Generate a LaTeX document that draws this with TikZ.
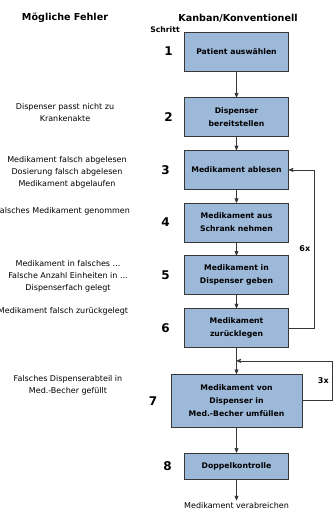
\documentclass[tikz,border=0pt]{standalone}
\usepackage{fontspec}
\setmainfont{DejaVu Sans}
\usepackage{tikz}
\usetikzlibrary{arrows}
\usetikzlibrary{positioning}
\usepackage{xcolor}
\definecolor{boxblue}{RGB}{157,185,218}
\definecolor{linegray}{RGB}{55,55,55}

\begin{document}
\begin{tikzpicture}[->, >=stealth', x=1pt, y=1pt, node distance=13pt, line width=0.7pt, color=linegray]
\tikzstyle{schritt} = [draw=linegray, fill=boxblue, text=black, minimum width=104pt, minimum height=39pt, align=center, inner sep=2pt, font=\bfseries\fontsize{7.7}{13}\selectfont]
\tikzstyle{nummer} = [text=black, inner sep=0pt, font=\bfseries\fontsize{12}{14}\selectfont]
\tikzstyle{fehler} = [text=black, align=center, inner sep=2pt, font=\fontsize{8}{12}\selectfont]
\tikzstyle{kopf} = [text=black, inner sep=0pt, font=\bfseries\fontsize{9.6}{12}\selectfont]

\useasboundingbox (0,0) rectangle (336,-513);

\node[kopf] (h1) at (65,-18) {Mögliche Fehler};
\node[kopf] (h2) at (238,-18) {Kanban/Konventionell};
\node[kopf, font=\bfseries\fontsize{7.7}{10}\selectfont] (hs) at (165,-30) {Schritt};

\node[schritt] (b1) at (236.5,-51.5) {Patient auswählen};
\node[schritt] (b2)[below=26pt of b1] {Dispenser\\bereitstellen};
\node[schritt] (b3)[below=of b2] {Medikament ablesen};
\node[schritt] (b4)[below=of b3] {Medikament aus\\Schrank nehmen};
\node[schritt] (b5)[below=of b4] {Medikament in\\Dispenser geben};
\node[schritt] (b6)[below=of b5] {Medikament\\zurücklegen};
\node[schritt, minimum width=131pt, minimum height=53pt] (b7)[below=26pt of b6] {Medikament von\\Dispenser in\\Med.-Becher umfüllen};
\node[schritt, minimum height=26pt] (b8)[below=25pt of b7] {Doppelkontrolle};
\node[fehler] (ende)[below=21pt of b8] {Medikament verabreichen};

\node[nummer] (n1)[left=11pt of b1] {1};
\node[nummer] (n2)[left=11pt of b2] {2};
\node[nummer] (n3)[left=14pt of b3] {3};
\node[nummer] (n4)[left=14pt of b4] {4};
\node[nummer] (n5)[left=14pt of b5] {5};
\node[nummer] (n6)[left=14pt of b6] {6};
\node[nummer] (n7)[left=13pt of b7] {7};
\node[nummer] (n8)[left=12pt of b8] {8};

\node[fehler] (f2) at (65,-113) {Dispenser passt nicht zu\\Krankenakte};
\node[fehler] (f3) at (67,-172) {Medikament falsch abgelesen\\Dosierung falsch abgelesen\\Medikament abgelaufen};
\node[fehler] (f4) at (63,-211) {Falsches Medikament genommen};
\node[fehler] (f5) at (68,-276.5) {Medikament in falsches ...\\Falsche Anzahl Einheiten in ...\\Dispenserfach gelegt};
\node[fehler] (f6) at (63,-311) {Medikament falsch zurückgelegt};
\node[fehler] (f7) at (68,-385.5) {Falsches Dispenserabteil in\\Med.-Becher gefüllt};

\path (b6.south) -- (b7.north) coordinate[midway] (j);

\path (b1) edge (b2)
	(b2) edge (b3)
	(b3) edge (b4)
	(b4) edge (b5)
	(b5) edge (b6)
	(b6) edge (b7)
	(b7) edge (b8)
	(b8) edge (ende)
	;

\draw (b6.east) -- ++(25,0) |- node[pos=0.25, left, text=black, font=\bfseries\fontsize{8}{10}\selectfont]{6x} (b3.east);
\draw (b7.east) -- ++(30,0) |- node[pos=0.25, left, text=black, font=\bfseries\fontsize{8}{10}\selectfont]{3x} (j);

\end{tikzpicture}
\end{document}
